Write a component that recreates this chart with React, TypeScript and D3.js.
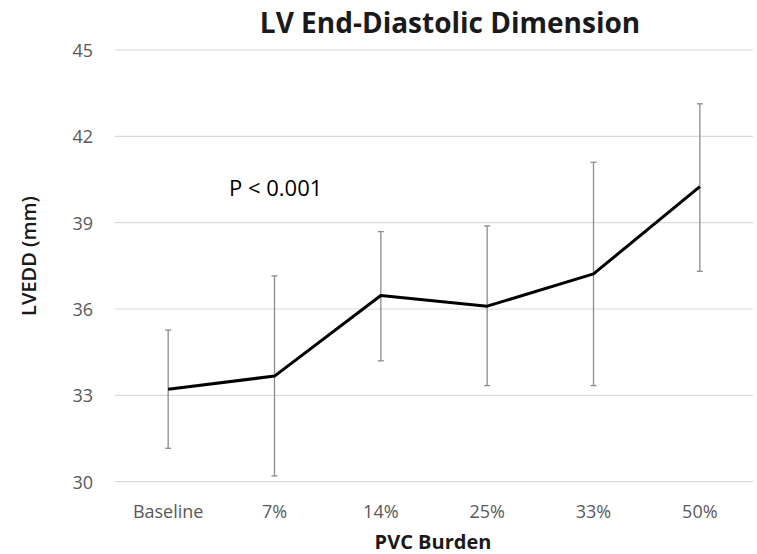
import React from "react";
import * as d3 from "d3";

const categories = ["Baseline", "7%", "14%", "25%", "33%", "50%"];
const means = [33.21, 33.67, 36.47, 36.1, 37.22, 40.25];
const upper = [35.27, 37.15, 38.69, 38.89, 41.1, 43.13];
const lower = [31.16, 30.2, 34.2, 33.34, 33.34, 37.31];
const yTicks = [30, 33, 36, 39, 42, 45];

const W = 757;
const H = 554;
const FONT = "'Open Sans', sans-serif";

export default function App() {
  const x = d3.scaleBand<string>().domain(categories).range([115, 753]);
  const y = d3.scaleLinear().domain([30, 45]).range([481.7, 50]);
  const cx = (c: string) => (x(c) as number) + x.bandwidth() / 2;
  const line = d3
    .line<number>()
    .x((_, i) => cx(categories[i]))
    .y((d) => y(d));

  return (
    <svg
      width={W}
      height={H}
      style={{ position: "absolute", left: 0, top: 0, background: "#fff" }}
      fontFamily={FONT}
    >
      <rect width={W} height={H} fill="#fff" />
      {yTicks.map((t) => (
        <g key={t}>
          <line x1={115} x2={753} y1={y(t)} y2={y(t)} stroke="#d9d9d9" strokeWidth={1.2} />
          <text x={93} y={y(t)} textAnchor="end" dominantBaseline="central" fontSize={18} fill="#595959">
            {t}
          </text>
        </g>
      ))}
      {categories.map((c, i) => (
        <g key={c}>
          <line x1={cx(c)} x2={cx(c)} y1={y(upper[i])} y2={y(lower[i])} stroke="#8c8c8c" strokeWidth={1.3} />
          <line x1={cx(c) - 3} x2={cx(c) + 3} y1={y(upper[i])} y2={y(upper[i])} stroke="#8c8c8c" strokeWidth={1.3} />
          <line x1={cx(c) - 3} x2={cx(c) + 3} y1={y(lower[i])} y2={y(lower[i])} stroke="#8c8c8c" strokeWidth={1.3} />
          <text x={cx(c)} y={511} textAnchor="middle" dominantBaseline="central" fontSize={18} fill="#595959">
            {c}
          </text>
        </g>
      ))}
      <path d={line(means) || ""} fill="none" stroke="#000" strokeWidth={3} strokeLinejoin="round" />
      <text x={450} y={33} textAnchor="middle" fontSize={28} fontWeight="bold" fill="#1a1a1a">
        LV End-Diastolic Dimension
      </text>
      <text x={433} y={541} textAnchor="middle" dominantBaseline="central" fontSize={20} fontWeight="bold" fill="#1a1a1a">
        PVC Burden
      </text>
      <text
        transform={`translate(28,256) rotate(-90)`}
        textAnchor="middle"
        dominantBaseline="central"
        fontSize={20}
        fontWeight={600}
        fill="#1a1a1a"
      >
        LVEDD (mm)
      </text>
      <text x={229} y={187} dominantBaseline="central" fontSize={22} fill="#000">
        P &lt; 0.001
      </text>
    </svg>
  );
}
